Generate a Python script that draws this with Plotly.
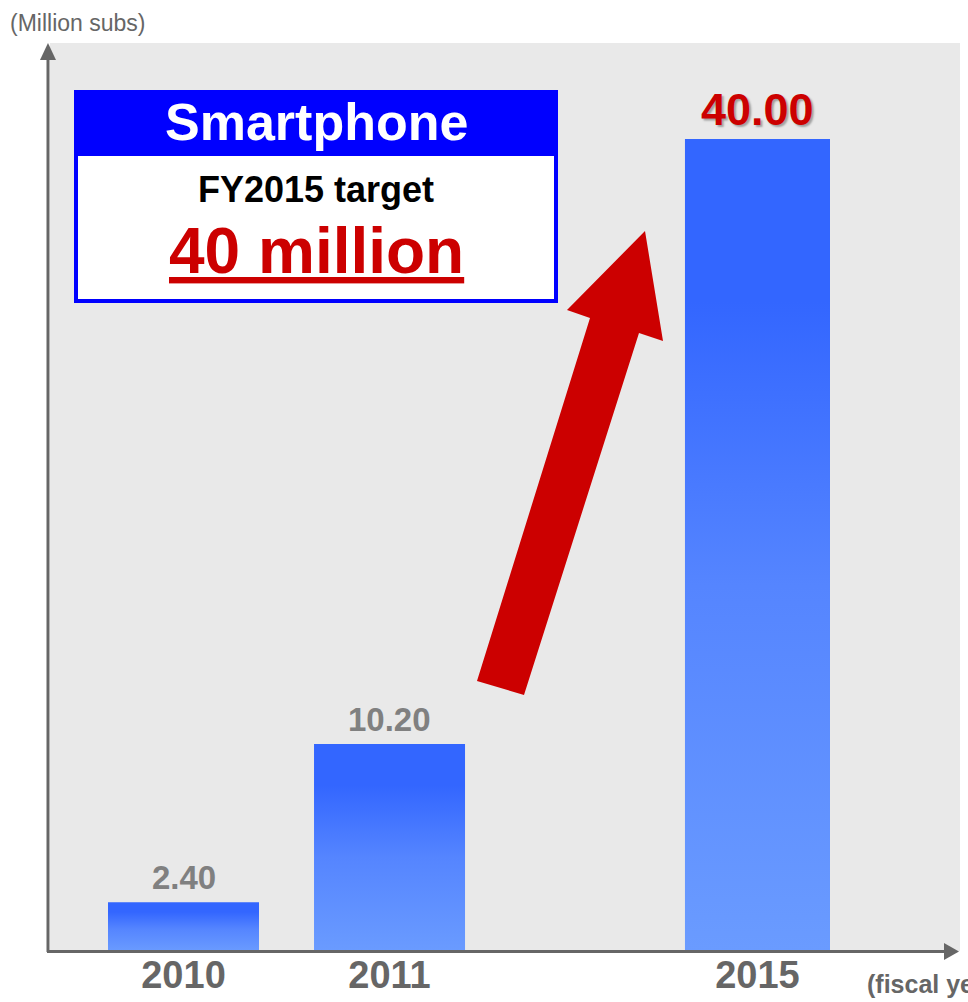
import plotly.graph_objects as go

# Smartphone subscribers by fiscal year (million subs)
years = ["2010", "2011", "2015"]
subs = [2.40, 10.20, 40.00]
target_year = "2015"

# layout constants
W, H = 968, 1002
PLOT_L, PLOT_R, PLOT_T, PLOT_B = 50, 960, 43, 951   # plot area in page pixels
X_SLOTS = [0.0, 1.0, 2.786]                          # horizontal slot of each year
BAR_W = [0.733, 0.733, 0.704]
X_RANGE = [-0.648, 3.769]
Y_RANGE = [0, 44.73]

FONT = "Liberation Sans, Arial, sans-serif"
AXIS_GREY = "#666666"
LABEL_GREY = "#808080"
RED = "#CC0000"
BLUE_SCALE = [[0.0, "#6A9BFF"], [0.45, "#5585FF"], [0.8, "#3366FF"], [1.0, "#3366FF"]]


def px(x):
    return (x - PLOT_L) / (PLOT_R - PLOT_L)


def py(y):
    return (PLOT_B - y) / (PLOT_B - PLOT_T)


def path(points):
    return "M " + " L ".join(f"{px(a):.5f},{py(b):.5f}" for a, b in points) + " Z"


fig = go.Figure()

# gradient bars, each with its own vertical gradient
for slot, w, v in zip(X_SLOTS, BAR_W, subs):
    l, r = slot - w / 2, slot + w / 2
    fig.add_trace(go.Scatter(
        x=[l, l, r, r, l], y=[0, v, v, 0, 0],
        mode="lines", line=dict(width=0),
        fill="toself",
        fillgradient=dict(type="vertical", colorscale=BLUE_SCALE),
        hoverinfo="skip", showlegend=False,
    ))

annotations = []
# value labels above bars
for slot, yr, v in zip(X_SLOTS, years, subs):
    hi = yr == target_year
    annotations.append(dict(
        x=slot, y=v, xref="x", yref="y", text=f"{v:.2f}", showarrow=False,
        yanchor="bottom", yshift=2 if hi else 4,
        font=dict(family=FONT, size=45 if hi else 33, color=RED if hi else LABEL_GREY,
                  weight="bold", shadow="2px 2px 2px #A0A0A0" if hi else "none"),
    ))

# unit labels
annotations.append(dict(
    x=-0.0462, y=1.0, xref="paper", yref="paper", text="(Million subs)",
    showarrow=False, xanchor="left", yanchor="bottom", yshift=5,
    font=dict(family=FONT, size=23, color=AXIS_GREY),
))
annotations.append(dict(
    x=px(865), y=py(984), xref="paper", yref="paper", text="(fiscal year)",
    showarrow=False, xanchor="left", yanchor="middle",
    font=dict(family=FONT, size=25, color=AXIS_GREY, weight="bold"),
))

# callout box text
annotations += [
    dict(x=px(316), y=py(122), xref="paper", yref="paper", text="Smartphone",
         showarrow=False, xanchor="center", yanchor="middle",
         font=dict(family=FONT, size=52, color="white", weight="bold")),
    dict(x=px(316), y=py(189), xref="paper", yref="paper", text="FY2015 target",
         showarrow=False, xanchor="center", yanchor="middle",
         font=dict(family=FONT, size=36, color="black", weight="bold")),
    dict(x=px(316), y=py(251), xref="paper", yref="paper", text="40 million",
         showarrow=False, xanchor="center", yanchor="middle",
         font=dict(family=FONT, size=64, color=RED, weight="bold", lineposition="under")),
]

shapes = [
    # callout box
    dict(type="rect", xref="paper", yref="paper", x0=px(76), x1=px(556), y0=py(301), y1=py(92),
         fillcolor="white", line=dict(color="#0000FF", width=4), layer="above"),
    dict(type="rect", xref="paper", yref="paper", x0=px(74), x1=px(558), y0=py(156), y1=py(90),
         fillcolor="#0000FF", line=dict(width=0), layer="above"),
    # growth arrow
    dict(type="path", xref="paper", yref="paper",
         path=path([(477, 681), (590, 318), (567, 310), (645, 231), (663, 341), (639, 333), (524, 695)]),
         fillcolor=RED, line=dict(width=0), layer="above"),
    # axes with arrowheads
    dict(type="line", xref="paper", yref="paper", x0=px(48), x1=px(48), y0=py(952), y1=py(58),
         line=dict(color=AXIS_GREY, width=3), layer="above"),
    dict(type="path", xref="paper", yref="paper", path=path([(40, 60), (56, 60), (48, 43)]),
         fillcolor=AXIS_GREY, line=dict(width=0), layer="above"),
    dict(type="line", xref="paper", yref="paper", x0=px(47), x1=px(945), y0=py(951.5), y1=py(951.5),
         line=dict(color=AXIS_GREY, width=3), layer="above"),
    dict(type="path", xref="paper", yref="paper", path=path([(944, 943), (944, 960), (959, 951.5)]),
         fillcolor=AXIS_GREY, line=dict(width=0), layer="above"),
]

fig.update_layout(
    width=W, height=H,
    margin=dict(l=PLOT_L, r=W - PLOT_R, t=PLOT_T, b=H - PLOT_B, pad=0, autoexpand=False),
    paper_bgcolor="white", plot_bgcolor="#E9E9E9",
    showlegend=False,
    xaxis=dict(range=X_RANGE, tickvals=X_SLOTS, ticktext=years, showgrid=False, zeroline=False,
               showline=False, ticks="", ticklabelstandoff=-2, automargin=False,
               tickfont=dict(family=FONT, size=38, color=AXIS_GREY, weight="bold"), fixedrange=True),
    yaxis=dict(range=Y_RANGE, showgrid=False, zeroline=False, showline=False, automargin=False,
               showticklabels=False, ticks="", fixedrange=True),
    annotations=annotations,
    shapes=shapes,
)

fig.write_html("out.html")
